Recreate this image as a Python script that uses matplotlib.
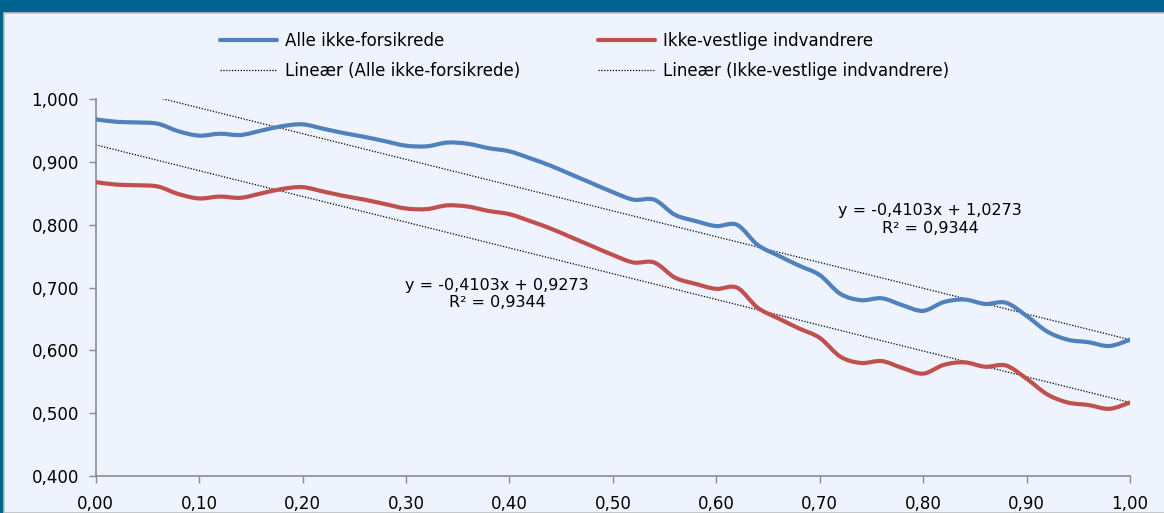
import matplotlib.pyplot as plt
from matplotlib.patches import Rectangle, PathPatch
from matplotlib.path import Path
from matplotlib.ticker import FixedLocator

# share of the period (x) and survival-type index (y)
x_vals = [0.00, 0.02, 0.04, 0.06, 0.08, 0.10, 0.12, 0.14, 0.16, 0.18,
          0.20, 0.22, 0.24, 0.26, 0.28, 0.30, 0.32, 0.34, 0.36, 0.38,
          0.40, 0.42, 0.44, 0.46, 0.48, 0.50, 0.52, 0.54, 0.56, 0.58,
          0.60, 0.62, 0.64, 0.66, 0.68, 0.70, 0.72, 0.74, 0.76, 0.78,
          0.80, 0.82, 0.84, 0.86, 0.88, 0.90, 0.92, 0.94, 0.96, 0.98, 1.00]
alle = [0.968, 0.964, 0.963, 0.961, 0.949, 0.942, 0.945, 0.943, 0.950, 0.957,
        0.960, 0.953, 0.946, 0.940, 0.933, 0.926, 0.925, 0.931, 0.929, 0.922,
        0.917, 0.906, 0.894, 0.880, 0.866, 0.852, 0.840, 0.840, 0.816, 0.806,
        0.798, 0.800, 0.768, 0.751, 0.735, 0.720, 0.690, 0.680, 0.683, 0.672,
        0.663, 0.677, 0.681, 0.674, 0.676, 0.655, 0.630, 0.617, 0.613, 0.607, 0.617]
ikke_vest = [0.868, 0.864, 0.863, 0.861, 0.849, 0.842, 0.845, 0.843, 0.850, 0.857,
             0.860, 0.853, 0.846, 0.840, 0.833, 0.826, 0.825, 0.831, 0.829, 0.822,
             0.817, 0.806, 0.794, 0.780, 0.766, 0.752, 0.740, 0.740, 0.716, 0.706,
             0.698, 0.700, 0.668, 0.651, 0.635, 0.620, 0.590, 0.580, 0.583, 0.572,
             0.563, 0.577, 0.581, 0.574, 0.576, 0.555, 0.530, 0.517, 0.513, 0.507, 0.517]

# trend lines (Excel linear fits shown on the chart)
slope_alle, icpt_alle = -0.4103, 1.0273
slope_ikke, icpt_ikke = -0.4103, 0.9273

x_ticks = [0.0, 0.1, 0.2, 0.3, 0.4, 0.5, 0.6, 0.7, 0.8, 0.9, 1.0]
y_ticks = [0.4, 0.5, 0.6, 0.7, 0.8, 0.9, 1.0]

blue = '#4F81BD'
red = '#C0504D'
bg = '#EEF3FE'
grey = '#8C8C8C'
fnt = 'DejaVu Sans'


def smooth_path(xs, ys):
    # excel style smoothed line: catmull-rom segments as cubic beziers
    pts = list(zip(xs, ys))
    verts = [pts[0]]
    codes = [Path.MOVETO]
    n = len(pts)
    for i in range(n - 1):
        p0 = pts[i - 1] if i > 0 else pts[i]
        p1 = pts[i]
        p2 = pts[i + 1]
        p3 = pts[i + 2] if i + 2 < n else pts[i + 1]
        c1 = (p1[0] + (p2[0] - p0[0]) / 6, p1[1] + (p2[1] - p0[1]) / 6)
        c2 = (p2[0] - (p3[0] - p1[0]) / 6, p2[1] - (p3[1] - p1[1]) / 6)
        verts += [c1, c2, p2]
        codes += [Path.CURVE4] * 3
    return Path(verts, codes)


fig = plt.figure(figsize=(11.64, 5.13), dpi=100, facecolor='#00628F')
# chart area below the (cut off) title bar
fig.patches.append(Rectangle((4 / 1164, 0), 1, 500 / 513, transform=fig.transFigure,
                             facecolor=bg, edgecolor='#BFBFBF', linewidth=1.2, zorder=-5))

ax = fig.add_axes([0.0822, 0.0721, 0.8886, 0.7345])
ax.set_zorder(2)
ax.patch.set_alpha(0)

lw = 3.0
for ys, col in [(alle, blue), (ikke_vest, red)]:
    ax.add_patch(PathPatch(smooth_path(x_vals, ys), facecolor='none', edgecolor=col,
                           linewidth=lw, capstyle='round', joinstyle='round', zorder=3))
h_alle, = ax.plot([], [], color=blue, linewidth=lw, solid_capstyle='round')
h_ikke, = ax.plot([], [], color=red, linewidth=lw, solid_capstyle='round')

tx = [0.0, 1.0]
h_ta, = ax.plot(tx, [icpt_alle + slope_alle * t for t in tx], color='black', linewidth=0.9,
                linestyle=(0, (1, 1.3)))
h_ti, = ax.plot(tx, [icpt_ikke + slope_ikke * t for t in tx], color='black', linewidth=0.9,
                linestyle=(0, (1, 1.3)))

ax.set_xlim(0, 1)
ax.set_ylim(0.4, 1.0)
ax.xaxis.set_major_locator(FixedLocator(x_ticks))
ax.yaxis.set_major_locator(FixedLocator(y_ticks))
ax.set_xticklabels([f'{t:.2f}'.replace('.', ',') for t in x_ticks], fontsize=12, family=fnt)
ax.set_yticklabels([f'{t:.3f}'.replace('.', ',') for t in y_ticks], fontsize=12, family=fnt)
ax.tick_params(axis='both', direction='out', length=5, width=1, color=grey, pad=7)
ax.tick_params(axis='x', pad=9)
for s in ['top', 'right']:
    ax.spines[s].set_visible(False)
for s in ['left', 'bottom']:
    ax.spines[s].set_color(grey)
    ax.spines[s].set_linewidth(1.2)

# equation labels
ax.text(0.8066, 0.8084, 'y = -0,4103x + 1,0273\nR² = 0,9344', ha='center', va='center',
        fontsize=11.5, family=fnt, linespacing=1.2)
ax.text(0.388, 0.690, 'y = -0,4103x + 0,9273\nR² = 0,9344', ha='center', va='center',
        fontsize=11.5, family=fnt, linespacing=1.2)

fig.legend([h_alle, h_ta, h_ikke, h_ti],
           ['Alle ikke-forsikrede', 'Lineær (Alle ikke-forsikrede)',
            'Ikke-vestlige indvandrere', 'Lineær (Ikke-vestlige indvandrere)'],
           ncol=2, loc='upper left', bbox_to_anchor=(0.176, 0.967), frameon=False,
           prop={'family': fnt, 'size': 12}, handlelength=3.4, handletextpad=0.5,
           columnspacing=4.7, labelspacing=0.7)

fig.savefig('out.png', dpi=100, facecolor=fig.get_facecolor())
